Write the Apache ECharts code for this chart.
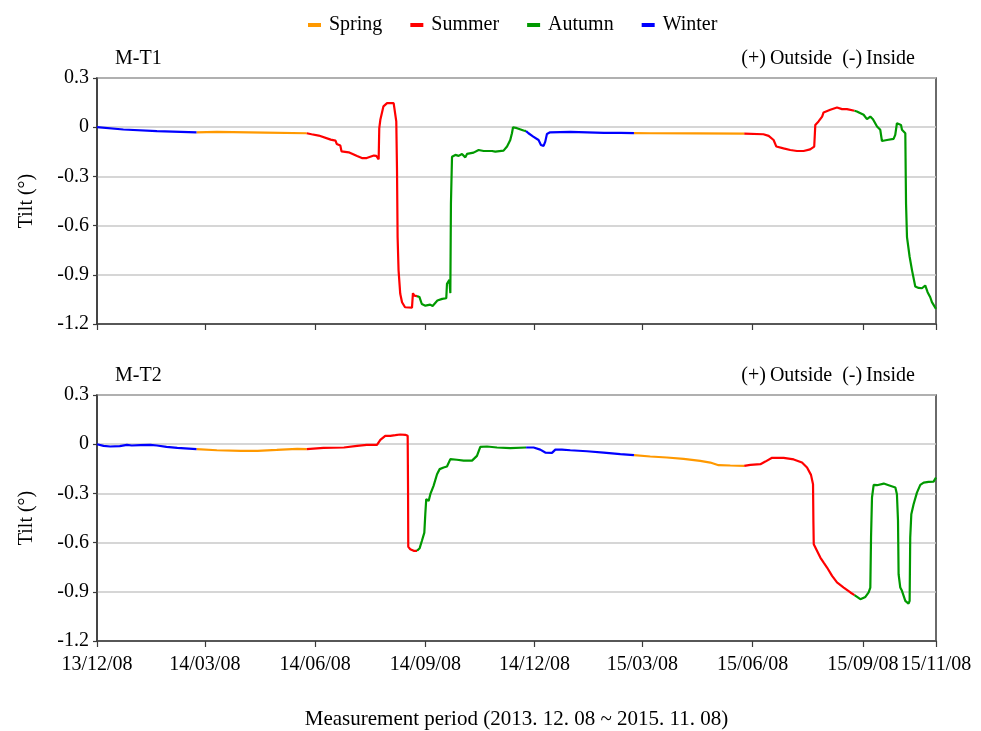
<!DOCTYPE html>
<html>
<head>
<meta charset="utf-8">
<title>Tilt measurement M-T1 / M-T2</title>
<script src="https://cdn.jsdelivr.net/npm/echarts@6/dist/echarts.min.js"></script>
<style>
  html, body { margin: 0; padding: 0; background: #fff; }
  #chart { width: 981px; height: 731px; }
</style>
</head>
<body>
<div id="chart"></div>
<script>
// Measurement start date; sample positions are elapsed days from it
const startDate = '2013-12-08';

// Tick dates on the time axis
const xTickDates = ['2013-12-08', '2014-03-08', '2014-06-08', '2014-09-08', '2014-12-08',
                    '2015-03-08', '2015-06-08', '2015-09-08', '2015-11-08'];
// Tilt axis ticks (degrees)
const yTicks = [-1.2, -0.9, -0.6, -0.3, 0, 0.3];

// Season names (legend order) and line colours
const seasons = ['Spring', 'Summer', 'Autumn', 'Winter'];
const seasonColors = ['#ff9900', '#ff0000', '#009900', '#0000ff'];

// M-T1: elapsed day and tilt (°)
const mt1Day = [0, 22, 50, 83, 100, 140, 175, 179, 185, 186, 195, 199, 200, 203, 204, 210, 217, 221, 225, 231,
  233, 235, 235.5, 236.4, 239, 242, 243.3, 245.3, 246.4, 247.5, 249.7, 250.3, 250.8, 251.6, 253, 254.5, 257,
  262.8, 263.6, 264.7, 267, 269, 271, 274, 278, 280, 284, 288, 291.4, 292, 294, 294.8, 295.3, 296.2, 299,
  301.7, 304.5, 307.3, 308.7, 314.2, 318.4, 322.6, 329.6, 332.3, 339.2, 342.1, 344.8, 346.2, 347.1, 350.4,
  355.9, 358, 360, 364, 368.4, 370.4, 372.6, 374, 375.4, 378, 395, 409, 423, 437, 448, 462, 500, 540, 556,
  560.4, 564.5, 566.8, 572.8, 578.4, 584, 589.5, 595, 598.4, 599.3, 602, 605, 606.2, 611.8, 617.4, 621.6,
  625.7, 632, 634, 639.6, 642.4, 645.2, 647.4, 650.8, 653.5, 654.9, 659.1, 664.6, 666, 667.4, 668.8, 670.8,
  671.6, 674.4, 674.7, 675, 675.8, 678, 680, 682.7, 685.5, 688.3, 691, 693, 695.2, 696.6, 698, 700];
const mt1Tilt = [0.000, -0.014, -0.024, -0.031, -0.029, -0.033, -0.037, -0.043, -0.051, -0.063, -0.076, -0.082,
  -0.102, -0.112, -0.147, -0.153, -0.176, -0.188, -0.188, -0.173, -0.175, -0.196, -0.006, 0.045, 0.127, 0.147,
  0.151, 0.147, 0.157, 0.147, 0.035, -0.26, -0.67, -0.873, -1.016, -1.067, -1.098, -1.100, -1.012, -1.027,
  -1.030, -1.035, -1.078, -1.088, -1.082, -1.090, -1.057, -1.047, -1.043, -0.955, -0.930, -1.012, -0.465,
  -0.180, -0.169, -0.175, -0.163, -0.184, -0.163, -0.155, -0.139, -0.145, -0.145, -0.149, -0.143, -0.118,
  -0.078, -0.037, 0.000, -0.006, -0.020, -0.024, -0.037, -0.057, -0.078, -0.108, -0.114, -0.088, -0.041,
  -0.031, -0.029, -0.031, -0.035, -0.035, -0.036, -0.037, -0.038, -0.039, -0.043, -0.053, -0.078, -0.118,
  -0.129, -0.139, -0.145, -0.145, -0.135, -0.118, 0.014, 0.035, 0.065, 0.090, 0.106, 0.120, 0.110, 0.110,
  0.100, 0.096, 0.076, 0.049, 0.065, 0.049, 0.004, -0.016, -0.084, -0.078, -0.071, -0.047, 0.024, 0.029,
  0.014, -0.016, -0.037, -0.26, -0.465, -0.67, -0.79, -0.873, -0.971, -0.980, -0.982, -0.965, -1.006,
  -1.037, -1.067, -1.076, -1.108];

// M-T2: elapsed day and tilt (°)
const mt2Day = [0, 5.5, 11, 19, 25, 29, 36, 44.5, 50, 58, 67, 83, 100, 120, 134, 150, 167, 175, 189, 206, 217,
  225, 233.6, 236.4, 240.5, 244.7, 248.9, 253, 257.2, 259.2, 259.5, 259.7, 261.4, 264.2, 267, 269.2, 271.1,
  273.1, 273.9, 274.7, 276.7, 278.1, 280.8, 283.7, 285.9, 289.2, 292, 294.8, 300.3, 305.9, 312.9, 317,
  319.8, 325.4, 333.7, 344.8, 358, 364.3, 369.8, 374, 379.6, 382.4, 383.7, 387.9, 394.9, 408.8, 422.7,
  436.6, 448, 461.6, 475.5, 489.4, 503.3, 511.7, 518.6, 528.4, 540, 545.1, 553.5, 557.6, 563.2, 572.9,
  581.3, 588.2, 592.4, 595.7, 597.4, 597.7, 598, 600.7, 603.5, 606.3, 609.1, 613.3, 617.4, 623, 628.6, 632,
  636.9, 641.1, 643.8, 645.2, 645.8, 646.6, 648, 649.4, 650.8, 656.4, 660.5, 666.1, 667.4, 668.3, 668.8,
  670.2, 671.6, 674.4, 677.1, 678, 678.5, 679.4, 681.3, 684.1, 686.9, 689.7, 693.8, 698, 700];
const mt2Tilt = [0.000, -0.010, -0.014, -0.012, -0.004, -0.008, -0.006, -0.004, -0.008, -0.016, -0.022, -0.030,
  -0.037, -0.041, -0.041, -0.035, -0.028, -0.030, -0.022, -0.020, -0.010, -0.004, -0.004, 0.026, 0.051,
  0.051, 0.055, 0.059, 0.057, 0.051, -0.264, -0.626, -0.640, -0.650, -0.650, -0.634, -0.589, -0.539,
  -0.427, -0.335, -0.346, -0.305, -0.254, -0.183, -0.152, -0.142, -0.136, -0.091, -0.095, -0.100, -0.100,
  -0.071, -0.016, -0.014, -0.020, -0.024, -0.020, -0.020, -0.033, -0.051, -0.053, -0.033, -0.026, -0.033,
  -0.037, -0.043, -0.051, -0.061, -0.067, -0.075, -0.081, -0.089, -0.102, -0.112, -0.128, -0.130, -0.132,
  -0.126, -0.122, -0.106, -0.083, -0.083, -0.093, -0.112, -0.142, -0.187, -0.244, -0.467, -0.610, -0.650,
  -0.691, -0.722, -0.752, -0.803, -0.843, -0.874, -0.904, -0.920, -0.945, -0.931, -0.904, -0.874, -0.569,
  -0.325, -0.248, -0.260, -0.250, -0.240, -0.250, -0.264, -0.305, -0.467, -0.793, -0.874, -0.894, -0.955,
  -0.972, -0.955, -0.569, -0.427, -0.366, -0.295, -0.248, -0.234, -0.230, -0.228, -0.203];

const DAY_MS = 86400000;
const startMs = Date.parse(startDate + 'T00:00:00Z');
const dayOf = (iso) => Math.round((Date.parse(iso + 'T00:00:00Z') - startMs) / DAY_MS);
const xTickDays = xTickDates.map(dayOf);
const xMax = xTickDays[xTickDays.length - 1];

function dateLabel(day) {
  const d = new Date(startMs + Math.round(day) * DAY_MS);
  const p = (n) => String(n).padStart(2, '0');
  return String(d.getUTCFullYear()).slice(2) + '/' + p(d.getUTCMonth() + 1) + '/' + p(d.getUTCDate());
}

// Meteorological season index of an elapsed day: 0 spring, 1 summer, 2 autumn, 3 winter
function seasonOf(day) {
  const m = new Date(startMs + day * DAY_MS).getUTCMonth();
  if (m >= 2 && m <= 4) return 0;
  if (m >= 5 && m <= 7) return 1;
  if (m >= 8 && m <= 10) return 2;
  return 3;
}

// Points of one season; each run is carried to the first point of the next season, then broken
function seasonData(days, vals, s) {
  const out = [];
  for (let i = 0; i < days.length; i++) {
    const cur = seasonOf(days[i]);
    if (cur === s) {
      out.push([days[i], vals[i]]);
    } else if (i > 0 && seasonOf(days[i - 1]) === s) {
      out.push([days[i], vals[i]]);
      out.push([days[i], null]);
    }
  }
  return out;
}

const FONT = '"Liberation Serif", "Times New Roman", serif';
const frameColor = '#3a3a3a';

function makeGrid(top) {
  return {
    left: 97, top: top, width: 839, height: 246,
    show: true, borderColor: frameColor, borderWidth: 1.5, backgroundColor: 'transparent',
    containLabel: false, outerBoundsMode: 'none'
  };
}

function makeX(gridIndex, withLabels) {
  const ax = {
    gridIndex: gridIndex, type: 'value', min: 0, max: xMax, position: 'bottom',
    axisLine: { show: true, onZero: false, lineStyle: { color: frameColor, width: 1.5 } },
    axisTick: { show: true, customValues: xTickDays, length: 6, inside: false,
                lineStyle: { color: frameColor, width: 1.2 } },
    axisLabel: { show: withLabels, customValues: xTickDays, formatter: dateLabel, hideOverlap: false,
                 fontFamily: FONT, fontSize: 20, color: '#000', margin: 14 },
    splitLine: { show: false }
  };
  if (withLabels) {
    ax.name = 'Measurement period (2013. 12. 08 ~ 2015. 11. 08)';
    ax.nameLocation = 'middle';
    ax.nameGap = 68;
    ax.nameTextStyle = { fontFamily: FONT, fontSize: 21, color: '#000' };
  }
  return ax;
}

function makeY(gridIndex) {
  return {
    gridIndex: gridIndex, type: 'value',
    min: yTicks[0], max: yTicks[yTicks.length - 1], interval: 0.3,
    axisLine: { show: true, onZero: false, lineStyle: { color: frameColor, width: 1.5 } },
    axisTick: { show: true, length: 4, lineStyle: { color: frameColor, width: 1.2 } },
    axisLabel: {
      fontFamily: FONT, fontSize: 20, color: '#000', margin: 8,
      formatter: (v) => Math.abs(v) < 1e-9 ? '0' : v.toFixed(1)
    },
    splitLine: { show: true, lineStyle: { color: '#c8c8c8', width: 1.5 } },
    name: 'Tilt (°)', nameLocation: 'middle', nameGap: 60,
    nameTextStyle: { fontFamily: FONT, fontSize: 20, color: '#000' }
  };
}

const panels = [
  { days: mt1Day, vals: mt1Tilt },
  { days: mt2Day, vals: mt2Tilt }
];

const series = [];
panels.forEach((p, gi) => {
  seasons.forEach((name, s) => {
    series.push({
      name: name, type: 'line', xAxisIndex: gi, yAxisIndex: gi,
      data: seasonData(p.days, p.vals, s),
      showSymbol: false, symbol: 'none', connectNulls: false,
      lineStyle: { color: seasonColors[s], width: 2.2 },
      itemStyle: { color: seasonColors[s] },
      emphasis: { disabled: true }, z: 3
    });
  });
});

const panelText = (label, top) => ([
  { type: 'text', left: 115, top: top,
    style: { text: label, font: '20px ' + FONT, fill: '#000' } },
  { type: 'text', right: 66, top: top,
    style: { text: '(+)\u2009Outside  (-)\u2009Inside', font: '20px ' + FONT, fill: '#000' } }
]);

const chart = echarts.init(document.getElementById('chart'), null, { renderer: 'canvas' });
chart.setOption({
  backgroundColor: '#fff',
  animation: false,
  legend: {
    data: seasons, top: 10, left: 303, icon: 'rect', itemWidth: 13, itemHeight: 4, itemGap: 28,
    textStyle: { fontFamily: FONT, fontSize: 20, color: '#000', padding: [0, 0, 0, 3] }
  },
  grid: [makeGrid(78), makeGrid(395)],
  xAxis: [makeX(0, false), makeX(1, true)],
  yAxis: [makeY(0), makeY(1)],
  graphic: panelText('M-T1', 49).concat(panelText('M-T2', 366)),
  series: series
});
</script>
</body>
</html>
